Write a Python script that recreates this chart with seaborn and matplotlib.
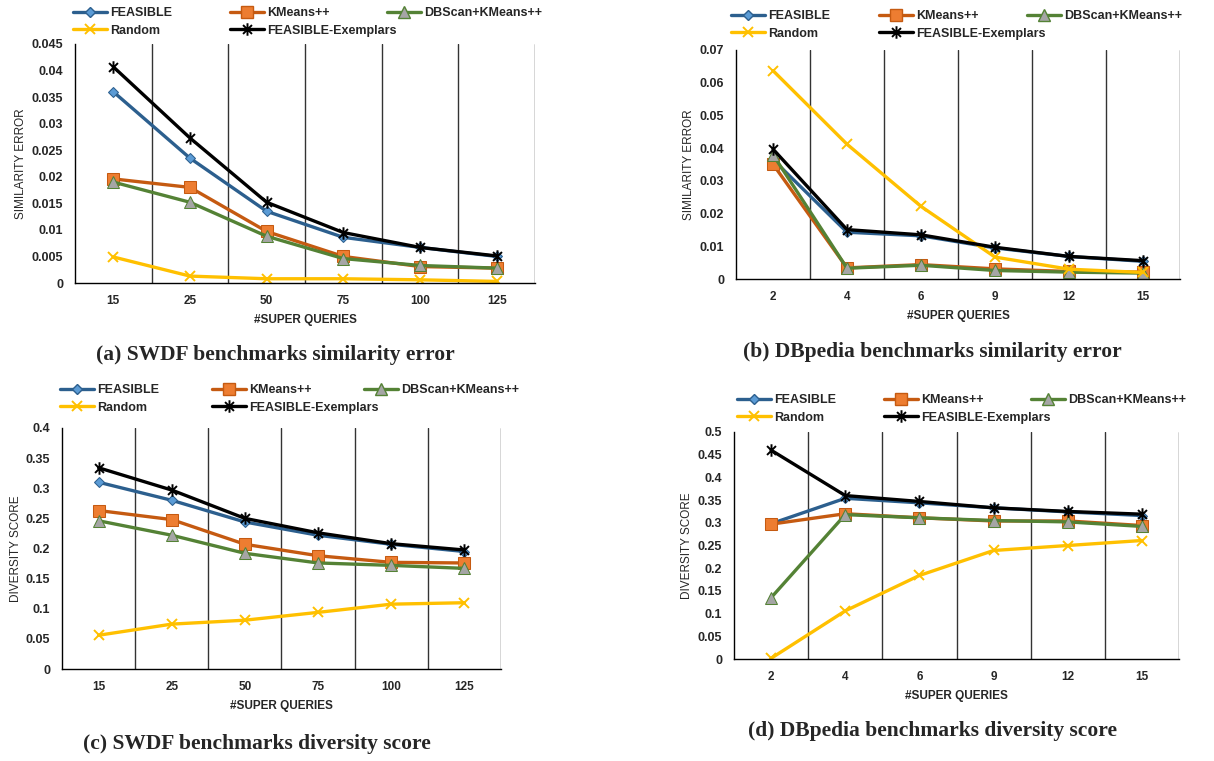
import numpy as np
import pandas as pd
import matplotlib
matplotlib.use('Agg')
import matplotlib.pyplot as plt
from matplotlib.lines import Line2D
from matplotlib.path import Path
import seaborn as sns

# Data
swdf_x = ['15', '25', '50', '75', '100', '125']
dbpedia_x = ['2', '4', '6', '9', '12', '15']

methods = ['FEASIBLE', 'KMeans++', 'DBScan+KMeans++', 'Random', 'FEASIBLE-Exemplars']

# (a) SWDF similarity error
swdf_sim_feasible = [0.0360, 0.0235, 0.0135, 0.0086, 0.0067, 0.0050]
swdf_sim_kmeans = [0.0196, 0.0180, 0.0097, 0.0050, 0.0031, 0.0028]
swdf_sim_dbscan = [0.0190, 0.0152, 0.0088, 0.0046, 0.0033, 0.0028]
swdf_sim_random = [0.0049, 0.0013, 0.0008, 0.0008, 0.0006, 0.0003]
swdf_sim_exemplars = [0.0407, 0.0273, 0.0152, 0.0095, 0.0067, 0.0051]

# (b) DBpedia similarity error
dbp_sim_feasible = [0.0365, 0.0143, 0.0132, 0.0095, 0.0069, 0.0054]
dbp_sim_kmeans = [0.0351, 0.0034, 0.0044, 0.0031, 0.0023, 0.0021]
dbp_sim_dbscan = [0.0380, 0.0033, 0.0042, 0.0026, 0.0021, 0.0018]
dbp_sim_random = [0.0637, 0.0412, 0.0222, 0.0067, 0.0030, 0.0020]
dbp_sim_exemplars = [0.0397, 0.0151, 0.0135, 0.0097, 0.0069, 0.0056]

# (c) SWDF diversity score
swdf_div_feasible = [0.310, 0.280, 0.244, 0.222, 0.207, 0.195]
swdf_div_kmeans = [0.263, 0.248, 0.207, 0.188, 0.177, 0.176]
swdf_div_dbscan = [0.246, 0.222, 0.192, 0.176, 0.172, 0.167]
swdf_div_random = [0.056, 0.0745, 0.081, 0.094, 0.1076, 0.110]
swdf_div_exemplars = [0.334, 0.297, 0.250, 0.226, 0.208, 0.1975]

# (d) DBpedia diversity score
dbp_div_feasible = [0.298, 0.354, 0.344, 0.333, 0.324, 0.316]
dbp_div_kmeans = [0.297, 0.320, 0.311, 0.304, 0.304, 0.294]
dbp_div_dbscan = [0.135, 0.318, 0.311, 0.305, 0.302, 0.292]
dbp_div_random = [0.0015, 0.106, 0.184, 0.239, 0.250, 0.261]
dbp_div_exemplars = [0.460, 0.360, 0.347, 0.333, 0.325, 0.319]

# Excel style "star" marker: an x with a vertical bar
star = Path([(-1, -1), (1, 1), (-1, 1), (1, -1), (0, -1.4), (0, 1.4)],
            [Path.MOVETO, Path.LINETO, Path.MOVETO, Path.LINETO, Path.MOVETO, Path.LINETO])

styles = {
    'FEASIBLE': dict(color='#2C5F8E', marker='D', markersize=5.5,
                     markerfacecolor='#5B9BD5', markeredgecolor='#2C5F8E'),
    'KMeans++': dict(color='#C55A11', marker='s', markersize=8,
                     markerfacecolor='#ED7D31', markeredgecolor='#C55A11'),
    'DBScan+KMeans++': dict(color='#548235', marker='^', markersize=8,
                            markerfacecolor='#A5A5A5', markeredgecolor='#548235'),
    'Random': dict(color='#FFC000', marker='x', markersize=7,
                   markeredgecolor='#FFC000', markeredgewidth=1.4),
    'FEASIBLE-Exemplars': dict(color='black', marker=star, markersize=9,
                               markerfacecolor='none', markeredgecolor='black',
                               markeredgewidth=1.4),
}

sns.set_theme(style='white')
plt.rcParams['font.family'] = ['Liberation Sans', 'DejaVu Sans']

W, H = 1214, 761
fig = plt.figure(figsize=(W / 100, H / 100), dpi=100)


def px_axes(x0, y0, x1, y1):
    return fig.add_axes([x0 / W, 1 - y1 / H, (x1 - x0) / W, (y1 - y0) / H])


def legend_cols(x, y_top, col_w, cols):
    # Excel-like legend: equal width columns, each drawn as its own legend
    for i, names in enumerate(cols):
        handles = [Line2D([], [], linewidth=2.4, **styles[n]) for n in names]
        fig.legend(handles, names, loc='upper left',
                   bbox_to_anchor=((x + i * col_w) / W, 1 - y_top / H),
                   frameon=False, handlelength=2.7, handletextpad=0.25,
                   borderpad=0, borderaxespad=0, labelspacing=0.45,
                   prop=dict(weight='bold', size=9))


def draw_panel(ax, xlabels, series, yticks, ylabel, caption, cap_xy, leg_xy, col_w):
    pos = np.arange(len(xlabels))
    for name, vals in zip(methods, series):
        sns.lineplot(x=pos, y=vals, ax=ax, linewidth=2.4, legend=False, **styles[name])
    ax.set_xlim(-0.5, len(xlabels) - 0.5)
    ax.set_ylim(0, yticks[-1])
    ax.set_yticks(yticks)
    ax.set_yticklabels(['{:g}'.format(v) for v in yticks], fontweight='bold', fontsize=9)
    ax.set_xticks(pos)
    ax.set_xticklabels(xlabels, fontweight='bold', fontsize=8.5)
    ax.set_xticks(np.arange(0.5, len(xlabels)), minor=True)
    ax.grid(False)
    ax.grid(True, which='minor', axis='x', color='#333333', linewidth=1)
    ax.tick_params(axis='both', which='both', length=0)
    ax.tick_params(axis='y', pad=8.5)
    ax.tick_params(axis='x', pad=8.5)
    for s in ['top', 'right']:
        ax.spines[s].set_visible(False)
    for s in ['left', 'bottom']:
        ax.spines[s].set_color('black')
        ax.spines[s].set_linewidth(1)
    ax.set_ylabel(ylabel, fontsize=8.5, labelpad=3)
    ax.set_xlabel('#SUPER QUERIES', fontsize=8.5, fontweight='bold', labelpad=5)
    fig.text(cap_xy[0] / W, 1 - cap_xy[1] / H, caption, ha='center', va='center',
             fontsize=15.5, fontweight='bold', family=['Liberation Serif', 'DejaVu Serif'])
    legend_cols(leg_xy[0], leg_xy[1], col_w,
                [['FEASIBLE', 'Random'], ['KMeans++', 'FEASIBLE-Exemplars'], ['DBScan+KMeans++']])


ax_a = px_axes(75, 44, 535, 283)
draw_panel(ax_a, swdf_x,
           [swdf_sim_feasible, swdf_sim_kmeans, swdf_sim_dbscan, swdf_sim_random, swdf_sim_exemplars],
           np.round(np.arange(0, 0.0451, 0.005), 3), 'SIMILARITY ERROR',
           '(a) SWDF benchmarks similarity error', (275, 355), (73, 7), 157)

ax_b = px_axes(736, 50, 1180, 279)
draw_panel(ax_b, dbpedia_x,
           [dbp_sim_feasible, dbp_sim_kmeans, dbp_sim_dbscan, dbp_sim_random, dbp_sim_exemplars],
           np.round(np.arange(0, 0.0701, 0.01), 2), 'SIMILARITY ERROR',
           '(b) DBpedia benchmarks similarity error', (932, 352), (731, 10), 148)

ax_c = px_axes(62, 428, 501, 669)
draw_panel(ax_c, swdf_x,
           [swdf_div_feasible, swdf_div_kmeans, swdf_div_dbscan, swdf_div_random, swdf_div_exemplars],
           np.round(np.arange(0, 0.401, 0.05), 2), 'DIVERSITY SCORE',
           '(c) SWDF benchmarks diversity score', (257, 744), (60, 384), 152)

ax_d = px_axes(734, 432, 1179, 659)
draw_panel(ax_d, dbpedia_x,
           [dbp_div_feasible, dbp_div_kmeans, dbp_div_dbscan, dbp_div_random, dbp_div_exemplars],
           np.round(np.arange(0, 0.501, 0.05), 2), 'DIVERSITY SCORE',
           '(d) DBpedia benchmarks diversity score', (932, 731), (737, 394), 147)

fig.savefig('out.png', dpi=100)
